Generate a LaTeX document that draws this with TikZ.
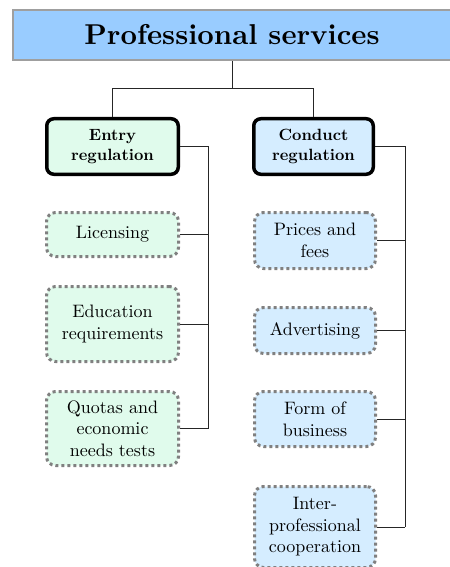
\documentclass[tikz,border=0pt]{standalone}
\usepackage{fontspec}
\setmainfont{lmroman10-regular}[Extension=.otf, BoldFont=lmroman10-bold]
\usepackage{xcolor}
\usetikzlibrary{positioning, calc}

\definecolor{titleblue}{HTML}{99CCFF}
\definecolor{entrygreen}{HTML}{E0FBEC}
\definecolor{conductblue}{HTML}{D5EDFF}
\definecolor{dotgray}{HTML}{808080}

\tikzset{
    headbox/.style={draw=gray!75, line width=2bp, fill=titleblue, inner sep=0pt,
        minimum width=438bp, minimum height=50bp,
        font=\fontsize{28.7bp}{34bp}\selectfont\bfseries},
    groupbox/.style={draw=black, line width=3.5bp, rounded corners=7bp, inner sep=0pt,
        minimum height=55.5bp, align=center,
        font=\fontsize{16.3bp}{20.5bp}\selectfont\bfseries},
    itembox/.style={draw=dotgray, line width=3bp, dash pattern=on 3bp off 3bp,
        rounded corners=9bp, inner sep=0pt, align=center,
        font=\fontsize{18bp}{21.5bp}\selectfont},
    link/.style={draw=black!85, line width=1bp}
}

\begin{document}
\begin{tikzpicture}[x=1bp, y=-1bp]
    \useasboundingbox (0,0) rectangle (450,567);
    \clip (0,0) rectangle (450,567);

    % Title
    \node[headbox] (title) at (232,35) {Professional services};

    % Regulation groups
    \node[groupbox, fill=entrygreen, minimum width=131.5bp] (entry) at (112.5,146.5) {Entry\\regulation};
    \node[groupbox, fill=conductblue, minimum width=119.5bp] (conduct) at (313.5,146.5) {Conduct\\regulation};

    % Entry regulation items
    \node[itembox, fill=entrygreen, minimum width=132bp, minimum height=44bp] (licensing) at (112.5,234.5) {Licensing};
    \node[itembox, fill=entrygreen, minimum width=132bp, minimum height=75bp] (education) at (112.5,324) {Education\\requirements};
    \node[itembox, fill=entrygreen, minimum width=132bp, minimum height=74bp] (quotas) at (112.5,428.5) {Quotas and\\economic\\needs tests};

    % Conduct regulation items
    \node[itembox, fill=conductblue, minimum width=121bp, minimum height=56bp] (prices) at (315,240.5) {Prices and\\fees};
    \node[itembox, fill=conductblue, minimum width=121bp, minimum height=46bp] (advert) at (315,330.5) {Advertising};
    \node[itembox, fill=conductblue, minimum width=121bp, minimum height=55bp] (form) at (315,419) {Form of\\business};
    \node[itembox, fill=conductblue, minimum width=121bp, minimum height=81bp] (inter) at (315,527) {Inter-\\professional\\cooperation};

    % Title to groups
    \coordinate (split) at (232,89);
    \draw[link] (title.south) -- (split);
    \draw[link] (split) -| (entry.north);
    \draw[link] (split) -| (conduct.north);

    % Left bus
    \coordinate (busL) at (208,428.5);
    \draw[link] (entry.east) -| (busL);
    \foreach \n in {licensing, education, quotas}
        \draw[link] (\n.east) -- (\n.east -| busL);

    % Right bus
    \coordinate (busR) at (405,527);
    \draw[link] (conduct.east) -| (busR);
    \foreach \n in {prices, advert, form, inter}
        \draw[link] (\n.east) -- (\n.east -| busR);
\end{tikzpicture}
\end{document}
